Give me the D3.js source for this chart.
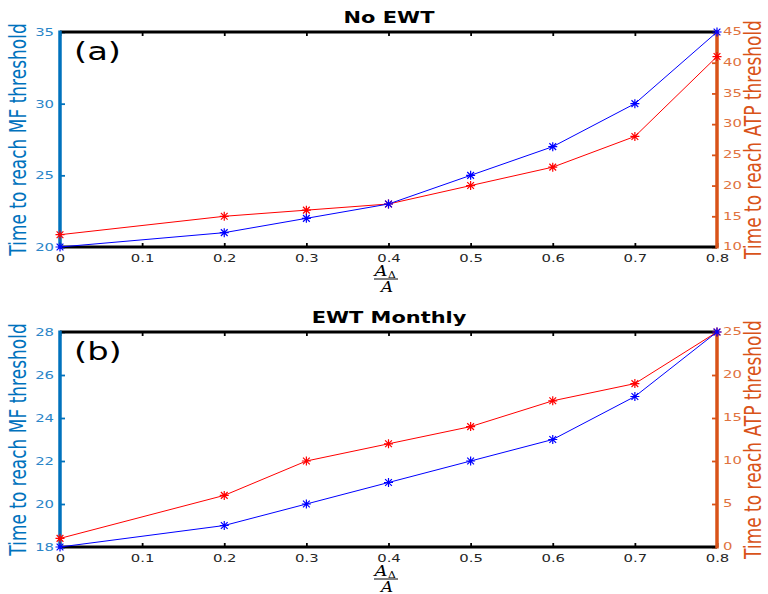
<!DOCTYPE html>
<html><head><meta charset="utf-8">
<script src="https://cdn.jsdelivr.net/npm/d3@7"></script>
<style>body{margin:0;background:#fff}svg{display:block}</style>
</head><body>
<svg id="c" width="768" height="594"></svg>
<script>
const ratios = [0, 0.2, 0.3, 0.4, 0.5, 0.6, 0.7, 0.8];
const xTickValues = [0, 0.1, 0.2, 0.3, 0.4, 0.5, 0.6, 0.7, 0.8];
const mfNoEWT = [20, 21, 22, 23, 25, 27, 30, 35];
const atpNoEWT = [12, 15, 16, 17, 20, 23, 28, 41];
const mfMonthly = [18, 19, 20, 21, 22, 23, 25, 28];
const atpMonthly = [1, 6, 10, 12, 14, 17, 19, 25];
const mfTicksNoEWT = [20, 25, 30, 35];
const atpTicksNoEWT = [10, 15, 20, 25, 30, 35, 40, 45];
const mfTicksMonthly = [18, 20, 22, 24, 26, 28];
const atpTicksMonthly = [0, 5, 10, 15, 20, 25];
const titles = ["No EWT", "EWT Monthly"];
const panelLabels = ["(a)", "(b)"];
const leftLabel = "Time to reach MF threshold";
const rightLabel = "Time to reach ATP threshold";

const SX = 1.35;
const BLUE_AX = "#0072BD", ORANGE_AX = "#D95319";
const svg = d3.select("#c");
const font = "DejaVu Sans, sans-serif";

const panels = [
  {top: 32, bottom: 247, mf: mfNoEWT, atp: atpNoEWT, lDom: [20, 35], rDom: [10, 45], lT: mfTicksNoEWT, rT: atpTicksNoEWT},
  {top: 332, bottom: 547, mf: mfMonthly, atp: atpMonthly, lDom: [18, 28], rDom: [0, 25], lT: mfTicksMonthly, rT: atpTicksMonthly}
];
const x = d3.scaleLinear().domain([0, 0.8]).range([60, 717]);

function txt(g, s, px, py, opts) {
  const t = g.append("text").attr("transform", `translate(${px},${py}) scale(${opts.sx || SX},1)`)
    .attr("font-family", opts.family || font).attr("font-size", opts.size)
    .attr("fill", opts.fill || "#000").attr("text-anchor", opts.anchor || "start")
    .text(s);
  if (opts.weight) t.attr("font-weight", opts.weight);
  if (opts.style) t.attr("font-style", opts.style);
  return t;
}
function star(g, cx, cy, color) {
  const r = 4.5, d = r * 0.75;
  g.append("path").attr("d",
    `M${cx - r},${cy}L${cx + r},${cy}M${cx},${cy - r}L${cx},${cy + r}` +
    `M${cx - d},${cy - d}L${cx + d},${cy + d}M${cx - d},${cy + d}L${cx + d},${cy - d}`)
    .attr("stroke", color).attr("stroke-width", 1.2).attr("fill", "none");
}
function fixTicks(sel, color) {
  sel.select(".domain").remove();
  sel.selectAll(".tick line").attr("stroke", color).attr("stroke-width", 1.8);
  sel.selectAll(".tick text").each(function() {
    const t = d3.select(this);
    const xv = +t.attr("x") || 0;
    t.attr("x", xv / SX).attr("transform", `scale(${SX},1)`);
  }).attr("fill", color).attr("font-family", font).attr("font-size", 11);
}

panels.forEach((p, i) => {
  const g = svg.append("g");
  const yl = d3.scaleLinear().domain(p.lDom).range([p.bottom, p.top]);
  const yr = d3.scaleLinear().domain(p.rDom).range([p.bottom, p.top]);

  const xb = g.append("g").attr("transform", `translate(0,${p.bottom})`)
    .call(d3.axisBottom(x).tickValues(xTickValues).tickSize(-4).tickPadding(7).tickFormat(d3.format("")));
  fixTicks(xb, "#000");
  xb.selectAll(".tick text").attr("fill", "#262626");
  const xt = g.append("g").attr("transform", `translate(0,${p.top})`)
    .call(d3.axisTop(x).tickValues(xTickValues).tickSize(-4).tickFormat(""));
  fixTicks(xt, "#000");

  const la = g.append("g").attr("transform", `translate(${x(0)},0)`)
    .call(d3.axisLeft(yl).tickValues(p.lT).tickSize(-5).tickPadding(6));
  fixTicks(la, BLUE_AX);
  la.selectAll(".tick text").attr("fill", "#2a85c8");
  const ra = g.append("g").attr("transform", `translate(${x(0.8)},0)`)
    .call(d3.axisRight(yr).tickValues(p.rT).tickSize(-5).tickPadding(6));
  fixTicks(ra, ORANGE_AX);
  ra.selectAll(".tick text").attr("fill", "#e0733f").attr("dy", "0.25em");

  g.append("line").attr("x1", x(0)).attr("x2", x(0.8)).attr("y1", p.top).attr("y2", p.top)
    .attr("stroke", "#000").attr("stroke-width", 3);
  g.append("line").attr("x1", x(0)).attr("x2", x(0.8)).attr("y1", p.bottom).attr("y2", p.bottom)
    .attr("stroke", "#000").attr("stroke-width", 3);
  g.append("line").attr("x1", x(0)).attr("x2", x(0)).attr("y1", p.top - 1.5).attr("y2", p.bottom + 1.5)
    .attr("stroke", BLUE_AX).attr("stroke-width", 3.5);
  g.append("line").attr("x1", x(0.8)).attr("x2", x(0.8)).attr("y1", p.top - 1.5).attr("y2", p.bottom + 1.5)
    .attr("stroke", ORANGE_AX).attr("stroke-width", 3.5);

  const lineL = d3.line().x((d, j) => x(ratios[j])).y(d => yl(d));
  const lineR = d3.line().x((d, j) => x(ratios[j])).y(d => yr(d));
  g.append("path").attr("d", lineR(p.atp)).attr("fill", "none").attr("stroke", "#FF0000").attr("stroke-width", 1);
  p.atp.forEach((v, j) => star(g, x(ratios[j]), yr(v), "#FF0000"));
  g.append("path").attr("d", lineL(p.mf)).attr("fill", "none").attr("stroke", "#0000FF").attr("stroke-width", 1);
  p.mf.forEach((v, j) => star(g, x(ratios[j]), yl(v), "#0000FF"));

  txt(g, titles[i], 389, p.top - 9, {size: 15.5, weight: "bold", anchor: "middle"});
  txt(g, panelLabels[i], 74, p.top + 28, {size: 25});

  // x label: fraction A_Δ / A
  const fy = p.bottom + 32;
  txt(g, "A", 381, fy - 3, {size: 15, family: "DejaVu Serif, serif", style: "italic", anchor: "middle", sx: 1.2});
  txt(g, "Δ", 388, fy - 1, {size: 9, family: "DejaVu Serif, serif", sx: 1.2});
  g.append("line").attr("x1", 374).attr("x2", 398).attr("y1", fy).attr("y2", fy).attr("stroke", "#000").attr("stroke-width", 1);
  txt(g, "A", 387, fy + 13, {size: 14, family: "DejaVu Serif, serif", style: "italic", anchor: "middle", sx: 1.2});

  const cy = (p.top + p.bottom) / 2;
  g.append("text").attr("transform", `translate(26,${cy}) rotate(-90) scale(1,${SX})`)
    .attr("font-family", font).attr("font-size", 17).attr("fill", BLUE_AX)
    .attr("text-anchor", "middle").text(leftLabel);
  g.append("text").attr("transform", `translate(761,${cy}) rotate(-90) scale(1,${SX})`)
    .attr("font-family", font).attr("font-size", 17).attr("fill", ORANGE_AX)
    .attr("text-anchor", "middle").text(rightLabel);
});
</script>
</body></html>
